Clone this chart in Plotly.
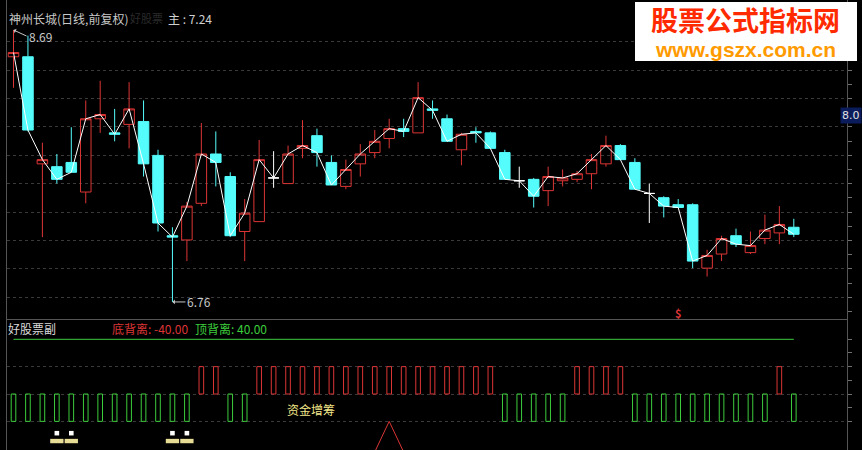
import plotly.graph_objects as go

# ---------------- data ----------------
opens  = [8.50, 8.50, 7.74, 7.72, 7.75, 7.54, 8.06, 7.96, 8.02, 8.04,
          7.80, 7.23, 7.20, 7.46, 7.81, 7.65, 7.26, 7.33, 7.64, 7.60,
          7.85, 7.94, 7.75, 7.58, 7.74, 7.82, 7.92, 7.99, 7.96, 8.13,
          8.06, 7.84, 7.97, 7.96, 7.82, 7.62, 7.63, 7.55, 7.62, 7.63,
          7.67, 7.74, 7.87, 7.75, 7.53, 7.50, 7.45, 7.45, 7.00, 7.10,
          7.23, 7.11, 7.21, 7.25, 7.29]
highs  = [8.69, 8.65, 7.89, 7.81, 8.00, 8.19, 8.33, 8.13, 8.32, 8.19,
          7.84, 7.29, 7.47, 8.03, 7.97, 7.68, 7.49, 7.91, 7.83, 7.87,
          8.05, 7.99, 7.80, 7.77, 7.88, 7.98, 8.06, 8.06, 8.32, 8.19,
          8.09, 7.96, 8.00, 7.97, 7.84, 7.72, 7.64, 7.72, 7.70, 7.69,
          7.81, 7.94, 7.88, 7.78, 7.60, 7.51, 7.49, 7.46, 7.13, 7.23,
          7.28, 7.26, 7.38, 7.44, 7.35]
lows   = [8.28, 7.97, 7.22, 7.60, 7.68, 7.46, 7.96, 7.90, 7.85, 7.65,
          7.26, 6.76, 7.05, 7.44, 7.58, 7.22, 7.05, 7.33, 7.57, 7.60,
          7.78, 7.72, 7.59, 7.56, 7.65, 7.78, 7.85, 7.93, 7.96, 8.06,
          7.90, 7.73, 7.89, 7.85, 7.63, 7.57, 7.43, 7.44, 7.58, 7.61,
          7.56, 7.72, 7.77, 7.56, 7.32, 7.36, 7.43, 7.00, 6.94, 7.05,
          7.15, 7.10, 7.17, 7.17, 7.22]
closes = [8.53, 7.98, 7.77, 7.63, 7.68, 8.06, 8.09, 7.95, 8.13, 7.74,
          7.32, 7.22, 7.44, 7.81, 7.75, 7.23, 7.39, 7.77, 7.64, 7.81,
          7.87, 7.82, 7.59, 7.70, 7.81, 7.90, 7.99, 7.97, 8.21, 8.12,
          7.90, 7.95, 7.96, 7.85, 7.63, 7.62, 7.51, 7.65, 7.64, 7.67,
          7.77, 7.87, 7.77, 7.56, 7.53, 7.44, 7.43, 7.05, 7.09, 7.21,
          7.17, 7.16, 7.27, 7.31, 7.24]

# lower panel: +1 = red (upper) box, -1 = green (lower) box
bottom_state = [-1, -1, -1, -1, -1, -1, -1, -1, -1, -1,
                -1, -1, -1, 1, 1, -1, -1, 1, 1, 1,
                1, 1, 1, 1, 1, 1, 1, 1, 1, 1,
                1, 1, 1, 1, -1, -1, -1, -1, -1, 1,
                1, 1, 1, -1, -1, -1, -1, -1, -1, -1,
                -1, -1, -1, 1, -1]
box_level = 20
top_div = 40.00
bottom_div = -40.00
signal_idx = [3, 4, 11, 12]        # white/yellow markers
signal_white_level = -30.3
signal_yellow_level = -36.0
arrow_idx = [26]                   # red triangle
arrow_level = -20
sell_idx = 46
label_hi = 8.69
label_lo = 6.76
cursor_price = "8.0"

# ---------------- geometry helpers (layout only) ----------------
W, H = 862, 450
X0, DX = 13.5, 14.45
def xi(px):  # pixel -> candle index
    return (px - X0) / DX
def price_at(py):
    return 8.69 - (py - 30) / 140.9
def val_at(py):
    return (394 - py) / 1.3675
def PX(px):
    return px / W
def PY(py):
    return 1 - py / H

LEFT, RIGHT, SPLIT = 7, 847, 319
RED = "#dc3535"
CYAN = "#54fcfc"
GREEN = "#3ccc3c"
GRID = "#3a3a3a"
AXC = "#555555"
FONT = "Noto Sans CJK SC, DejaVu Sans, sans-serif"

idx = list(range(len(closes)))
up = [i for i in idx if closes[i] > opens[i]]
dn = [i for i in idx if closes[i] < opens[i]]
fl = [i for i in idx if closes[i] == opens[i]]

fig = go.Figure()

def candles(ids, color, fill):
    return go.Candlestick(
        x=ids,
        open=[opens[i] for i in ids], high=[highs[i] for i in ids],
        low=[lows[i] for i in ids], close=[closes[i] for i in ids],
        increasing=dict(line=dict(color=color, width=1), fillcolor=fill),
        decreasing=dict(line=dict(color=color, width=1), fillcolor=fill),
        whiskerwidth=0, xaxis="x", yaxis="y", hoverinfo="skip", showlegend=False)

fig.add_trace(candles(up, RED, "rgba(0,0,0,0)"))
fig.add_trace(candles(dn, CYAN, CYAN))
fig.add_trace(candles(fl, "#ffffff", "#ffffff"))

fig.add_trace(go.Scatter(x=idx, y=closes, mode="lines", line=dict(color="#ffffff", width=1),
                         xaxis="x", yaxis="y", hoverinfo="skip", showlegend=False))

# lower panel
red_ids = [i for i in idx if bottom_state[i] > 0]
grn_ids = [i for i in idx if bottom_state[i] < 0]
fig.add_trace(go.Bar(x=red_ids, y=[box_level] * len(red_ids), base=0, width=0.32,
                     marker=dict(color="rgba(0,0,0,0)", line=dict(color=RED, width=1)),
                     xaxis="x2", yaxis="y2", hoverinfo="skip", showlegend=False))
fig.add_trace(go.Bar(x=grn_ids, y=[box_level] * len(grn_ids), base=-box_level, width=0.32,
                     marker=dict(color="rgba(0,0,0,0)", line=dict(color=GREEN, width=1)),
                     xaxis="x2", yaxis="y2", hoverinfo="skip", showlegend=False))
fig.add_trace(go.Bar(x=signal_idx, y=[3.2] * len(signal_idx), base=signal_yellow_level, width=0.92,
                     marker=dict(color="#e6dc96", line=dict(width=0)),
                     xaxis="x2", yaxis="y2", hoverinfo="skip", showlegend=False))
fig.add_trace(go.Bar(x=signal_idx, y=[3.3] * len(signal_idx), base=signal_white_level, width=0.32,
                     marker=dict(color="#ffffff", line=dict(width=0)),
                     xaxis="x2", yaxis="y2", hoverinfo="skip", showlegend=False))
fig.add_trace(go.Scatter(x=idx, y=[top_div] * len(idx), mode="lines",
                         line=dict(color=GREEN, width=1),
                         xaxis="x2", yaxis="y2", hoverinfo="skip", showlegend=False))
for a in arrow_idx:
    fig.add_trace(go.Scatter(x=[a - 1.25, a, a + 1.25, a - 1.25],
                             y=[arrow_level - 28, arrow_level, arrow_level - 28, arrow_level - 28],
                             mode="lines", line=dict(color=RED, width=1),
                             xaxis="x2", yaxis="y2", hoverinfo="skip", showlegend=False))

# grid / tick positions (axis styling)
step = 0.2016
g0 = price_at(41.7)
grid_top = [g0 - k * step for k in range(10)]
minor_top = [g0 + step / 2 - k * step for k in range(11)]

xr = [xi(LEFT), xi(RIGHT)]
dom_x = [PX(LEFT), PX(RIGHT)]

fig.update_layout(
    width=W, height=H, margin=dict(l=0, r=0, t=0, b=0, pad=0),
    paper_bgcolor="#000000", plot_bgcolor="#000000",
    showlegend=False, barmode="overlay", boxgap=0.27, boxgroupgap=0,
    xaxis=dict(domain=dom_x, range=xr, anchor="y", showgrid=False, zeroline=False,
               showticklabels=False, ticks="", showline=True, linecolor=AXC, linewidth=1,
               rangeslider=dict(visible=False), fixedrange=True),
    xaxis2=dict(domain=dom_x, range=xr, anchor="y2", showgrid=False, zeroline=False,
                showticklabels=False, ticks="", showline=False, fixedrange=True),
    yaxis=dict(domain=[PY(SPLIT), 1], range=[price_at(SPLIT), price_at(0)], anchor="x",
               side="right", tickmode="array", tickvals=grid_top, showticklabels=False,
               showgrid=True, gridcolor=GRID, griddash="dot", gridwidth=1, zeroline=False,
               ticks="outside", ticklen=4, tickcolor="#707070",
               minor=dict(tickmode="array", tickvals=minor_top, ticks="outside", ticklen=4,
                          tickcolor="#707070", showgrid=False),
               showline=True, mirror=True, linecolor=AXC, linewidth=1, fixedrange=True),
    yaxis2=dict(domain=[0, PY(SPLIT)], range=[val_at(H), val_at(SPLIT)], anchor="x2",
                side="right", tickmode="array", tickvals=[-20, 0, 20], showticklabels=False,
                showgrid=True, gridcolor=GRID, griddash="dot", gridwidth=1, zeroline=False,
                ticks="outside", ticklen=4, tickcolor="#707070",
                minor=dict(tickmode="array", tickvals=[-10, 10, 30, 40], ticks="outside",
                           ticklen=4, tickcolor="#707070", showgrid=False),
                showline=True, mirror=True, linecolor=AXC, linewidth=1, fixedrange=True),
)

ann = []
def txt(px, py, text, color, size=12, xanchor="left", family=FONT, **kw):
    ann.append(dict(x=PX(px), y=PY(py), xref="paper", yref="paper", text=text,
                    showarrow=False, xanchor=xanchor, yanchor="middle",
                    font=dict(color=color, size=size, family=family), **kw))

txt(7, 18, "神州长城(日线,前复权)", "#c8c8c8")
txt(128, 18, "好股票", "#2a2a2a", size=11)
txt(166, 18, f"主 : {closes[-1]:.2f}", "#d0d0d0")
txt(6, 328, "好股票副", "#d8d8d8")
txt(110, 328, f"底背离: {bottom_div:.2f}", RED)
txt(193, 328, f"顶背离: {top_div:.2f}", GREEN)

# high / low labels with arrows
ann.append(dict(x=0, y=label_hi, xref="x", yref="y", text=f"{label_hi:.2f}", showarrow=True,
                ax=13, ay=6, xanchor="left", yanchor="middle", arrowhead=1, arrowsize=0.8,
                arrowwidth=1, arrowcolor="#c8c8c8", standoff=0,
                font=dict(color="#c8c8c8", size=12, family=FONT)))
lo_i = lows.index(min(lows))
ann.append(dict(x=lo_i, y=label_lo, xref="x", yref="y", text=f"{label_lo:.2f}", showarrow=True,
                ax=13, ay=0, xanchor="left", yanchor="middle", arrowhead=1, arrowsize=0.8,
                arrowwidth=1, arrowcolor="#c8c8c8", standoff=0,
                font=dict(color="#c8c8c8", size=12, family=FONT)))

# sell marker
ann.append(dict(x=sell_idx, y=PY(313), xref="x", yref="paper", text="<b>$</b>", showarrow=False,
                xanchor="center", yanchor="middle", font=dict(color=RED, size=11, family=FONT)))

# lower panel caption
ann.append(dict(x=xi(311), y=val_at(409), xref="x2", yref="y2", text="资金增筹", showarrow=False,
                xanchor="center", yanchor="middle", font=dict(color="#f2e68a", size=12, family=FONT)))

# cursor price box on right axis
ann.append(dict(x=1, y=PY(115.5), xref="paper", yref="paper", text=cursor_price,
                showarrow=False, xanchor="right", yanchor="middle", bgcolor="#0b1c5c",
                borderpad=1, font=dict(color="#e0e0e0", size=11, family="DejaVu Sans")))

# watermark
txt(745, 20, "<b>股票公式指标网</b>", "#ff2a00", size=27, xanchor="center")
txt(745, 49, "<b>www.gszx.com.cn</b>", "#ff9a00", size=21, xanchor="center",
    family="Liberation Sans, Arial, sans-serif")

fig.update_layout(annotations=ann)
fig.add_shape(type="rect", xref="paper", yref="paper", x0=PX(635), x1=PX(857),
              y0=PY(61), y1=PY(2), fillcolor="#ffffff", line=dict(width=0), layer="above")

fig.write_html("out.html",
               config={"displayModeBar": False, "staticPlot": True},
               post_script="document.body.style.margin='0';document.body.style.padding='0';"
                           "document.body.style.overflow='hidden';"
                           "document.documentElement.style.background='#000';")
